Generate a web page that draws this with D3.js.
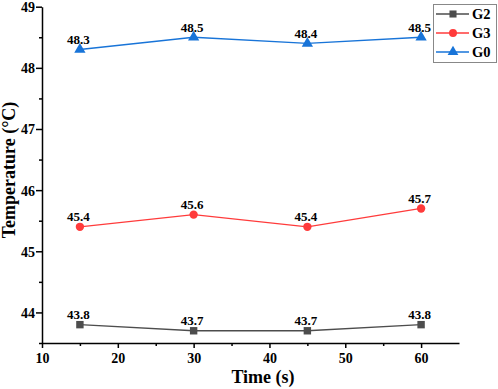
<!DOCTYPE html>
<html><head><meta charset="utf-8">
<script src="https://cdn.jsdelivr.net/npm/d3@7"></script>
<style>body{margin:0;background:#fff}</style>
</head><body><svg id="c" width="498" height="389"></svg>
<script>
const times = [15, 30, 45, 60];
const g2 = [43.8, 43.7, 43.7, 43.8];
const g3 = [45.4, 45.6, 45.4, 45.7];
const g0 = [48.3, 48.5, 48.4, 48.5];
const xTicks = [10, 20, 30, 40, 50, 60];
const yTicks = [44, 45, 46, 47, 48, 49];
const seriesNames = ["G2", "G3", "G0"];
const colors = ["#4d4d4d", "#ff3b3b", "#1874d8"];
const FONT = '"Liberation Serif", "Times New Roman", serif';

const svg = d3.select("#c");
const x = d3.scaleLinear().domain([10, 65]).range([42, 459]);
const y = d3.scaleLinear().domain([43.5, 49]).range([343, 6.7]);

// axes
const xa = svg.append("g").attr("transform", "translate(0,343)");
xa.call(d3.axisBottom(x).tickValues(xTicks).tickFormat(d3.format("d")).tickSize(5).tickSizeOuter(0).tickPadding(2));
const xm = svg.append("g").attr("transform", "translate(0,343)");
xm.call(d3.axisBottom(x).tickValues([15,25,35,45,55]).tickFormat("").tickSize(3).tickSizeOuter(0));
xm.select(".domain").remove();
const ya = svg.append("g").attr("transform", "translate(42,0)");
ya.call(d3.axisLeft(y).tickValues(yTicks).tickFormat(d3.format("d")).tickSize(6).tickSizeOuter(0).tickPadding(1));
const ym = svg.append("g").attr("transform", "translate(42,0)");
ym.call(d3.axisLeft(y).tickValues([43.5,44.5,45.5,46.5,47.5,48.5]).tickFormat("").tickSize(3).tickSizeOuter(0));
ym.select(".domain").remove();
svg.selectAll(".domain,.tick line").attr("stroke", "#000").attr("stroke-width", 1.5);
svg.selectAll("g").attr("font-family", FONT);
xa.selectAll("text").attr("font-size", 14).attr("font-weight", "bold").attr("font-family", FONT).attr("dy", "0.95em");
ya.selectAll("text").attr("font-size", 14).attr("font-weight", "bold").attr("font-family", FONT).attr("dy", "0.35em");

svg.append("text").attr("x", 263).attr("y", 383).attr("text-anchor", "middle")
  .attr("font-family", FONT).attr("font-weight", "bold").attr("font-size", 18).text("Time (s)");
svg.append("text").attr("transform", "translate(15,170) rotate(-90)").attr("text-anchor", "middle")
  .attr("font-family", FONT).attr("font-weight", "bold").attr("font-size", 18).text("Temperature (°C)");

const all = [g2, g3, g0];
const symTypes = [d3.symbolSquare, d3.symbolCircle, d3.symbolTriangle];
const line = d3.line().x((d, i) => x(times[i])).y(d => y(d));
all.forEach((vals, k) => {
  const g = svg.append("g");
  g.append("path").attr("d", line(vals)).attr("fill", "none").attr("stroke", colors[k]).attr("stroke-width", 1.3);
  g.selectAll("path.m").data(vals).enter().append("path").attr("class", "m")
    .attr("d", d3.symbol().type(symTypes[k]).size(55))
    .attr("transform", (d, i) => `translate(${x(times[i])},${y(d)})`).attr("fill", colors[k]);
  g.selectAll("text").data(vals).enter().append("text")
    .attr("x", (d, i) => x(times[i]) - 1.5).attr("y", d => y(d) - 5.5)
    .attr("text-anchor", "middle").attr("font-family", FONT).attr("font-weight", "bold")
    .attr("font-size", 13).text(d => d.toFixed(1));
});

// legend
const lg = svg.append("g");
lg.append("rect").attr("x", 433.5).attr("y", 4.5).attr("width", 63).attr("height", 58).attr("fill", "#fff").attr("stroke", "#888").attr("stroke-width", 1);
seriesNames.forEach((n, k) => {
  const yy = 14 + k * 19;
  lg.append("line").attr("x1", 436).attr("x2", 469).attr("y1", yy).attr("y2", yy).attr("stroke", colors[k]).attr("stroke-width", 1.3);
  lg.append("path").attr("d", d3.symbol().type(symTypes[k]).size(50)).attr("transform", `translate(453,${yy})`).attr("fill", colors[k]);
  lg.append("text").attr("x", 472).attr("y", yy + 5).attr("font-family", FONT).attr("font-weight", "bold").attr("font-size", 14.5).text(n);
});
</script></body></html>
